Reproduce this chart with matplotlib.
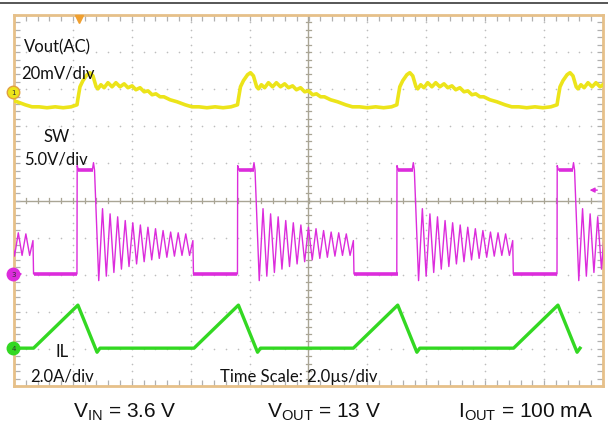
import matplotlib
matplotlib.use('Agg')
import matplotlib.pyplot as plt
from matplotlib.lines import Line2D
import numpy as np

plt.rcParams['mathtext.fontset'] = 'custom'
plt.rcParams['mathtext.rm'] = 'Liberation Sans'

# scope screen: 2 us/div, 10 div wide, 10 div high
x_min, x_max = -10.0, 10.0
y_min, y_max = -5.0, 5.0

# SW rising edge of each switching cycle (us)
t_rise = [-13.29, -7.86, -2.41, 3.00, 8.44]
t_high = 0.594      # SW high (diode conducting)
t_on = 1.477        # switch on before each rising edge
ring_first = 0.272  # first ringing peak after SW falls
ring_period = 0.257
ring_end = 3.36

# SW levels (V)
sw_high = 14.0
sw_ring_peaks = [8.8, 8.1, 7.7, 7.2, 6.9, 6.6, 6.3, 6.1, 5.85, 5.65, 5.55, 5.4]
sw_ring_troughs = [-0.9, -0.3, 0.2, 0.65, 1.0, 1.35, 1.65, 1.9, 2.1, 2.25, 2.4, 2.5]

# inductor current (A)
il_peak = 2.32
il_dip = -0.22

# output ripple (mV) vs time after SW rising edge (us)
vout_dt = [0.00, 0.03, 0.10, 0.20, 0.34, 0.44, 0.54, 0.65, 0.71, 0.81, 0.92, 1.05,
           1.19, 1.32, 1.46, 1.60, 1.73, 1.87, 2.00, 2.14, 2.28, 2.41, 2.55, 2.68,
           2.82, 2.95, 3.16, 3.40, 3.67, 3.90, 4.14, 4.41, 4.69, 4.96, 5.23]
vout_mv = [-7.0, -3.8, 2.7, 6.0, 9.2, 10.3, 8.6, 2.7, 1.6, 3.8, 2.2, 4.9,
           2.7, 4.9, 2.7, 4.3, 2.2, 3.2, 1.1, 2.2, 0.0, 0.5, -1.6, -1.1,
           -2.7, -2.7, -4.3, -5.4, -7.0, -8.1, -8.1, -8.6, -8.1, -8.6, -8.1]

# channel scale (units/div) and ground position (div)
vout_scale, vout_pos = 20.0, 2.93
sw_scale, sw_pos = 5.0, -1.98
il_scale, il_pos = 2.0, -3.98

c_yellow = '#ece41a'
c_magenta = '#dc2cdc'
c_green = '#33d822'
c_frame = '#e6c089'

# ---- build traces ----
sw_t, sw_v = [], []
flat_segs = []
for r in t_rise:
    f = r + t_high
    sw_t += [r - 0.002, r + 0.005, r + 0.05, f - 0.07, f - 0.035, f]
    sw_v += [0.0, 14.6, sw_high, sw_high + 0.1, 15.0, sw_high]
    flat_segs.append((r + 0.05, f - 0.05, sw_high))
    for k in range(len(sw_ring_peaks)):
        tp = f + ring_first + k * ring_period
        sw_t += [tp - ring_period / 2, tp]
        sw_v += [sw_ring_troughs[k], sw_ring_peaks[k]]
    sw_t += [tp + ring_period / 2, f + ring_end - 0.02, f + ring_end]
    sw_v += [sw_ring_troughs[-1], 4.5, 0.0]
    flat_segs.append((f + ring_end, f + ring_end + (5.433 - t_high - ring_end), 0.0))
sw_t = np.array(sw_t)
sw_v = np.array(sw_v)

il_t, il_a = [], []
for r in t_rise:
    il_t += [r - t_on, r + 0.03, r + 0.68, r + 0.78]
    il_a += [0.0, il_peak, il_dip, 0.0]
il_t = np.array(il_t)
il_a = np.array(il_a)

vo_t, vo_v = [], []
for r in t_rise:
    vo_t += [r + d for d in vout_dt]
    vo_v += vout_mv
vo_t = np.array(vo_t)
vo_v = np.array(vo_v)

# ---- figure ----
fig = plt.figure(figsize=(6.08, 4.27), dpi=100)
ax = fig.add_axes([14 / 608, 40 / 427, 589 / 608, 371 / 427])
ax.set_xlim(x_min, x_max)
ax.set_ylim(y_min, y_max)

# dotted graticule
for gx in np.arange(-8, 10, 2):
    if gx == 0:
        continue
    ys = np.arange(-5, 5.01, 0.2)
    ax.scatter(np.full(len(ys), gx), ys, s=1.4, color='#bdbdbd', lw=0, zorder=1)
for gy in np.arange(-4, 5, 1):
    if gy == 0:
        continue
    xs = np.arange(-10, 10.01, 0.4)
    ax.scatter(xs, np.full(len(xs), gy), s=1.4, color='#bdbdbd', lw=0, zorder=1)

# center cross with minor ticks
ax.axhline(0, color='#a9a595', lw=1, zorder=1)
ax.axvline(0, color='#a9a595', lw=1, zorder=1)
for tx in np.arange(-10, 10.01, 0.4):
    ax.plot([tx, tx], [-0.08, 0.08], color='#a9a595', lw=0.9, zorder=1)
for ty in np.arange(-5, 5.01, 0.2):
    ax.plot([-0.1, 0.1], [ty, ty], color='#a9a595', lw=0.9, zorder=1)

ax.set_xticks([])
ax.set_yticks([])
ax.set_xticks(np.arange(-10, 10.01, 0.4), minor=True)
ax.set_yticks(np.arange(-5, 5.01, 0.2), minor=True)
ax.tick_params(which='minor', direction='in', length=4, width=0.9, color='#b0b0b0',
               top=True, right=True, labelbottom=False, labelleft=False)
for s in ax.spines.values():
    s.set_color(c_frame)
    s.set_linewidth(2)

# traces
ax.plot(vo_t, vout_pos + vo_v / vout_scale, color=c_yellow, lw=2.6, zorder=3)
ax.plot(sw_t, sw_pos + sw_v / sw_scale, color=c_magenta, lw=1.0, zorder=3)
for a, b, lev in flat_segs:
    ax.plot([a, b], [sw_pos + lev / sw_scale] * 2, color=c_magenta, lw=2.6, zorder=3,
            solid_capstyle='butt')
ax.plot(il_t, il_pos + il_a / il_scale, color=c_green, lw=2.4, zorder=3)

# channel markers
for pos, col, lab in [(vout_pos, c_yellow, '1'), (sw_pos, c_magenta, '3'), (il_pos, c_green, '4')]:
    ax.plot([x_min - 0.02], [pos], marker='o', ms=9, mfc=col, mec='#e0a040' if lab == '1' else col,
            clip_on=False, zorder=5)
    ax.text(x_min - 0.02, pos, lab, fontsize=5, ha='center', va='center', color='#333333',
            clip_on=False, zorder=6)
ax.annotate('', xy=(-9.62, sw_pos), xytext=(-9.95, sw_pos),
            arrowprops=dict(arrowstyle='-|>', color=c_magenta, lw=1, mutation_scale=7), zorder=5)
ax.plot([-7.80], [y_max - 0.12], marker='v', ms=6, color='#f0a030', mec='#f0a030',
        clip_on=False, zorder=5)
ax.annotate('', xy=(9.45, 0.28), xytext=(9.9, 0.28),
            arrowprops=dict(arrowstyle='-|>', color=c_magenta, lw=1, mutation_scale=7), zorder=5)

# labels on the screen
lab_font = dict(family='Lato', fontsize=12, color='#111111', zorder=7)
ax.text(-9.67, 4.15, 'Vout(AC)', **lab_font, va='center')
ax.text(-9.74, 3.45, '20mV/div', **lab_font, va='center')
ax.text(-9.00, 1.75, 'SW', **lab_font, va='center')
ax.text(-9.67, 1.12, '5.0V/div', **lab_font, va='center')
ax.text(-8.60, -4.05, 'IL', **lab_font, va='center')
ax.text(-9.45, -4.72, '2.0A/div', **lab_font, va='center')
ax.text(-3.00, -4.72, 'Time Scale: 2.0\u00b5s/div', **lab_font, va='center')

# conditions below the screen
bot = dict(family='Liberation Sans', fontsize=15, color='#111111', va='center')
fig.text(73 / 608, 1 - 412 / 427, r'V$_{\mathrm{IN}}$ = 3.6 V', **bot)
fig.text(267 / 608, 1 - 412 / 427, r'V$_{\mathrm{OUT}}$ = 13 V', **bot)
fig.text(458 / 608, 1 - 412 / 427, r'I$_{\mathrm{OUT}}$ = 100 mA', **bot)

fig.add_artist(Line2D([0, 1], [1 - 3.5 / 427] * 2, color='#3a3a3a', lw=1.2))

fig.savefig('out.png', dpi=100)
plt.close('all')
